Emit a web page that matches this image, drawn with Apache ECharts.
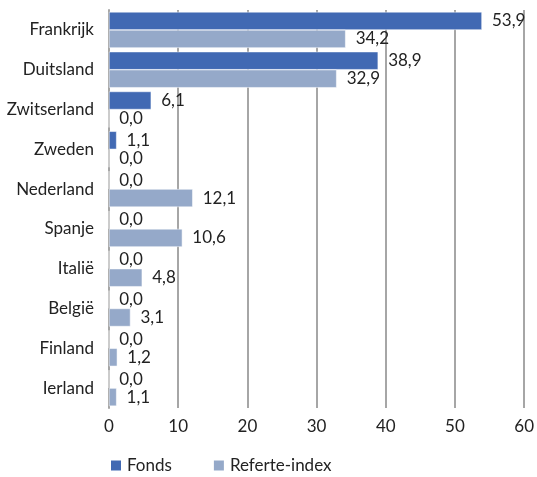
<!DOCTYPE html>
<html lang="nl">
<head>
    <meta charset="UTF-8">
    <title>Landenverdeling</title>
    <script src="https://cdn.jsdelivr.net/npm/echarts@6/dist/echarts.min.js"></script>
    <style>
        html, body { margin: 0; padding: 0; background: #fff; }
        #chart { width: 537px; height: 477px; }
    </style>
</head>
<body>
    <div id="chart"></div>
    <script type="text/javascript">
        // landen van boven naar onder
        var landen = ['Frankrijk', 'Duitsland', 'Zwitserland', 'Zweden', 'Nederland',
                      'Spanje', 'Italië', 'België', 'Finland', 'Ierland'];
        var fonds = [53.9, 38.9, 6.1, 1.1, 0.0, 0.0, 0.0, 0.0, 0.0, 0.0];
        var referte = [34.2, 32.9, 0.0, 0.0, 12.1, 10.6, 4.8, 3.1, 1.2, 1.1];
        var xTicks = [0, 10, 20, 30, 40, 50, 60];

        var fontFam = 'Lato, "Open Sans", sans-serif';
        var fs = 17;
        var chart = echarts.init(document.getElementById('chart'));

        function labelFmt(p) {
            return p.value.toFixed(1).replace('.', ',');
        }

        var option = {
            animation: false,
            grid: { left: 109, right: 11, top: 10, bottom: 69, containLabel: false },
            legend: {
                top: 452,
                left: 104,
                itemWidth: 12,
                itemHeight: 12,
                itemGap: 40,
                icon: 'rect',
                textStyle: { fontFamily: fontFam, fontSize: fs, color: '#222' },
                data: ['Fonds', 'Referte-index']
            },
            xAxis: {
                type: 'value',
                min: xTicks[0],
                max: xTicks[xTicks.length - 1],
                interval: 10,
                axisLine: { show: false },
                axisTick: { show: false },
                splitLine: { lineStyle: { color: '#a6a6a6', width: 2 } },
                axisLabel: { fontFamily: fontFam, fontSize: fs, color: '#222', margin: 10 }
            },
            yAxis: {
                type: 'category',
                inverse: true,
                data: landen,
                axisLine: { show: true, lineStyle: { color: '#a6a6a6', width: 2 } },
                axisTick: { show: false },
                axisLabel: { fontFamily: fontFam, fontSize: fs, color: '#222', margin: 15 }
            },
            series: [
                {
                    name: 'Fonds',
                    type: 'bar',
                    data: fonds,
                    barWidth: 18,
                    barGap: '0%',
                    barCategoryGap: '10%',
                    itemStyle: { color: '#4169b3', borderColor: '#fff', borderWidth: 0.5 },
                    label: {
                        show: true, position: 'right', distance: 10,
                        fontFamily: fontFam, fontSize: fs, color: '#222',
                        formatter: labelFmt
                    }
                },
                {
                    name: 'Referte-index',
                    type: 'bar',
                    data: referte,
                    barWidth: 18,
                    barGap: '0%',
                    barCategoryGap: '10%',
                    itemStyle: { color: '#95a9c9', borderColor: '#fff', borderWidth: 0.5 },
                    label: {
                        show: true, position: 'right', distance: 10,
                        fontFamily: fontFam, fontSize: fs, color: '#222',
                        formatter: labelFmt
                    }
                }
            ]
        };
        chart.setOption(option);
    </script>
</body>
</html>
